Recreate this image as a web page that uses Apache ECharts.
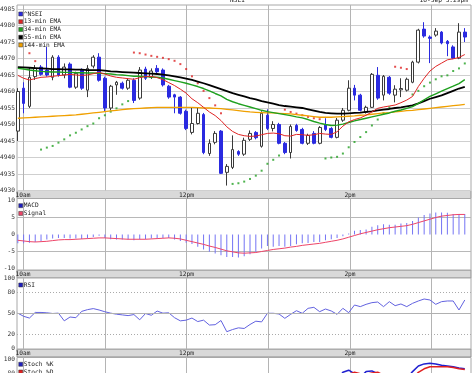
<!DOCTYPE html>
<html><head><meta charset="utf-8">
<script src="https://cdn.jsdelivr.net/npm/echarts@6/dist/echarts.min.js"></script>
<style>html,body{margin:0;padding:0;background:#fff}#c{width:474px;height:373px}</style>
</head><body><div id="c"></div>
<script>
// ---- tick labels ----
const timeLabels = ['10am', '12pm', '2pm'];
const timeLabelPos = [0.9, 29.06, 57.22];      // in bar units
const hourLinePos = [0.9, 14.98, 29.06, 43.14, 57.22, 71.3];
const priceTicks = [4930, 4935, 4940, 4945, 4950, 4955, 4960, 4965, 4970, 4975, 4980, 4985];
const macdTicks = [-10, -5, 0, 5, 10];
const oscTicks = [0, 20, 50, 80, 100];

// ---- candles: [open, close, low, high] ----
const ohlc = [
[4948,4960,4945,4961],[4961,4956.4,4953.4,4962.8],[4955.5,4964.3,4955,4967.4],[4964.5,4967,4963.5,4968],
[4967.4,4965.2,4964.8,4968],[4966.5,4965,4964.5,4973.5],[4964.3,4970.4,4963.4,4971],[4970.4,4965,4964.5,4971],
[4965,4967.4,4964,4968.5],[4968.3,4961.3,4961,4968.8],[4961.3,4965.5,4960.8,4966],[4966.5,4961,4960.5,4967],
[4960.4,4967,4958.3,4968],[4967.7,4970.4,4967,4971],[4970.4,4963.4,4963,4971.6],[4964,4955,4954,4964.5],
[4955,4961.6,4954.3,4962],[4962,4962.8,4959,4963.2],[4962.5,4961,4960.6,4963],[4961,4963.4,4960.5,4964],
[4963.4,4957.3,4956.5,4964],[4958,4966.5,4957.5,4967.4],[4966.8,4964,4963.5,4967.5],[4964.3,4966.2,4963.8,4967],
[4967,4966,4965.5,4968],[4966.5,4962,4961.5,4967],[4961.6,4958.3,4957.8,4962],[4959,4958.3,4953.4,4959.3],
[4958.3,4953.4,4953,4958.6],[4954,4948.8,4948.3,4954.5],[4947.6,4950.3,4947,4955.2],[4950.3,4953.4,4950,4955.2],
[4953,4941.5,4941,4953.5],[4941.2,4944.3,4940.5,4945.5],[4944.6,4947.3,4944,4948],[4948,4935.2,4935,4948.3],
[4935.5,4937.3,4931.5,4938],[4937,4942.4,4936.5,4946.7],[4941.8,4941,4940.5,4942.2],[4941,4945.2,4940.5,4946],
[4945.5,4947.3,4945,4948.2],[4947.6,4946,4945.5,4948],[4943.4,4953.4,4943,4954],[4952.8,4948.8,4948.3,4954.6],
[4948.8,4950,4947.9,4951],[4950,4944.3,4944,4950.5],[4944.3,4941.5,4941,4944.7],[4941.5,4949.4,4939.7,4950],
[4949.7,4948.2,4947.8,4950.2],[4948.5,4944.3,4944,4949],[4944.3,4946.7,4943.8,4947.2],[4947.3,4944.3,4944,4948],
[4944.3,4949.1,4944,4949.5],[4950,4948.5,4948,4951.9],[4948.8,4946.1,4945.8,4949.2],[4946.1,4951.3,4945.8,4952],
[4951.3,4954.3,4950.8,4955],[4954.3,4961,4954,4963.4],[4961,4958.9,4957.3,4962],[4958.9,4954.3,4954,4959.3],
[4953.7,4955.2,4953.3,4955.7],[4955.2,4965.2,4955,4965.6],[4964.9,4958,4957.5,4967.4],[4958.9,4964.6,4957.3,4965],
[4964.3,4959.5,4959,4964.7],[4958.9,4960.7,4956.7,4961.9],[4960.5,4960.9,4958.3,4964],[4960.4,4963.7,4960,4964.2],
[4962.8,4968.9,4962.5,4969.3],[4968.9,4978.6,4968.5,4979],[4978.9,4976.8,4976.3,4981],[4976.5,4976.1,4968.6,4977],
[4977.1,4978.3,4976.6,4979.2],[4978,4974.7,4974.3,4978.3],[4975.2,4974.5,4970.7,4975.6],[4973.5,4970.1,4969.8,4974],
[4970.1,4978,4969.8,4980.7],[4978,4976.5,4975,4979.2]
];

const ema13 = [4964.9,4964.0,4963.5,4963.9,4964.3,4964.4,4964.6,4964.8,4965.0,4965.2,
4965.0,4964.9,4965.0,4965.4,4965.8,4965.3,4964.7,4964.3,4964.1,4963.9,
4963.7,4964.2,4964.5,4964.6,4964.2,4963.6,4962.7,4961.8,4960.7,4959.5,
4957.8,4956.6,4955.2,4953.8,4952.7,4951.2,4949.3,4947.9,4947.0,4946.6,
4946.4,4946.5,4946.9,4947.3,4947.4,4947.2,4946.6,4946.5,4947.0,4946.9,
4946.7,4946.9,4947.3,4947.1,4947.0,4947.8,4949.5,4950.8,4951.5,4952.0,
4952.8,4953.8,4954.9,4955.3,4955.6,4955.9,4956.6,4957.4,4958.5,4961.5,
4964.0,4966.2,4967.6,4968.6,4969.6,4969.9,4970.3,4971.2];

const ema34 = [4967.0,4966.8,4966.5,4966.3,4966.1,4966.0,4965.9,4965.9,4965.8,4965.8,
4965.7,4965.7,4965.6,4965.6,4965.5,4965.4,4965.3,4965.1,4965.0,4964.8,
4964.6,4964.6,4964.5,4964.4,4964.3,4964.1,4963.7,4963.3,4962.9,4962.5,
4962.0,4961.5,4960.9,4960.2,4959.4,4958.7,4957.6,4956.9,4956.3,4955.8,
4955.3,4954.8,4954.3,4953.9,4953.6,4953.3,4953.0,4952.7,4952.3,4952.0,
4951.5,4950.9,4950.4,4950.0,4949.7,4949.8,4950.1,4950.6,4951.1,4951.5,
4951.9,4952.3,4952.7,4953.1,4953.5,4954.0,4954.4,4954.9,4955.4,4956.4,
4957.5,4958.5,4959.3,4960.1,4960.9,4961.6,4962.4,4963.6];

const ema55 = [4967.4,4967.3,4967.2,4967.1,4967.0,4966.9,4966.8,4966.8,4966.7,4966.7,
4966.6,4966.6,4966.5,4966.5,4966.5,4966.3,4966.1,4966.0,4965.9,4965.8,
4965.7,4965.6,4965.5,4965.4,4965.3,4965.1,4964.9,4964.6,4964.3,4963.9,
4963.5,4963.0,4962.5,4961.9,4961.3,4960.7,4960.1,4959.5,4959.0,4958.5,
4958.0,4957.6,4957.1,4956.7,4956.3,4955.9,4955.6,4955.4,4955.2,4955.0,
4954.6,4954.2,4953.8,4953.5,4953.4,4953.3,4953.3,4953.4,4953.5,4953.6,
4953.8,4954.0,4954.3,4954.5,4954.7,4955.0,4955.2,4955.5,4955.8,4956.4,
4957.1,4957.8,4958.3,4958.8,4959.5,4960.2,4960.9,4961.4];

const ema144 = [4951.9,4952.0,4952.1,4952.2,4952.3,4952.4,4952.5,4952.6,4952.7,4952.8,
4952.9,4953.1,4953.3,4953.5,4953.7,4953.9,4954.1,4954.3,4954.5,4954.7,
4954.8,4954.9,4955.0,4955.1,4955.2,4955.2,4955.2,4955.2,4955.2,4955.2,
4955.2,4955.1,4955.0,4955.0,4954.9,4954.8,4954.6,4954.4,4954.2,4954.0,
4953.8,4953.7,4953.6,4953.5,4953.5,4953.4,4953.3,4953.2,4953.0,4952.8,
4952.6,4952.4,4952.2,4952.2,4952.2,4952.3,4952.4,4952.5,4952.6,4952.8,
4952.9,4953.1,4953.3,4953.5,4953.6,4953.8,4954.0,4954.2,4954.3,4954.5,
4954.7,4954.9,4955.1,4955.3,4955.5,4955.7,4955.9,4956.1];

// parabolic SAR (above = falling, below = rising)
const sarAbove = [null,null,4971.6,4969.2,
null,null,null,null,null,null,null,null,null,null,null,null,null,null,null,null,
4971.8,4971.6,4971.2,4970.8,4970.5,4970.2,4969.8,4969.3,4968.3,4966.8,4964.6,4962.5,4960.2,4958,4955.8,4953.4,
null,null,null,null,null,null,null,null,null,null,
4954.5,4953.8,4953.3,4952.8,4952.3,4951.9,4951.6,
null,null,null,null,null,null,null,null,null,null,null,null,
4967.5,4967.2,4966.8,
null,null,null,null,null,null,null,null,null,null];
const sarBelow = [null,null,null,null,
4942.4,4943,4943.5,4944.5,4945.5,4946.7,4947.5,4948.5,4949.5,4950.3,4951.9,4952.8,4953.9,4954.9,4956.1,4957.1,
null,null,null,null,null,null,null,null,null,null,null,null,null,null,null,null,null,
4932,4932.2,4932.7,4933.5,4934.5,4936,4938.1,4939.3,4940.6,
null,null,null,null,null,null,null,
4939.7,4940,4940.2,4941.2,4943.1,4944.7,4946.2,4947.7,4949.7,4951.5,4953.4,4955.2,
null,null,null,
4959.1,4960.2,4961.6,4962.7,4963.7,4964.6,4964.9,4966.2,4967,4968.5];

const macd = [-2.6,-2.6,-2.4,-2.2,-1.9,-1.5,-1.2,-1.0,-1.0,-1.2,
-1.2,-1.3,-1.2,-0.7,-0.4,-1.0,-1.4,-1.5,-1.5,-1.5,
-1.7,-1.5,-1.4,-1.2,-1.2,-1.0,-1.0,-1.5,-1.9,-2.4,
-2.8,-3.6,-4.4,-5.1,-5.6,-6.1,-6.6,-6.6,-6.8,-6.4,
-5.8,-5.1,-4.1,-3.4,-3.6,-3.4,-3.6,-3.4,-2.9,-2.6,
-2.5,-2.2,-2.2,-1.7,-1.4,-1.0,-0.5,0.3,1.1,1.3,
1.5,2.3,2.7,3.0,2.9,2.9,3.2,3.4,4.0,5.0,
5.7,6.2,6.5,6.5,6.4,6.0,6.0,6.0];

const signal = [-1.7,-1.9,-2.1,-2.2,-2.1,-2.0,-1.8,-1.6,-1.5,-1.5,
-1.4,-1.3,-1.2,-1.1,-1.0,-1.0,-1.1,-1.2,-1.3,-1.4,
-1.4,-1.4,-1.4,-1.3,-1.2,-1.1,-1.0,-1.1,-1.3,-1.7,
-2.1,-2.5,-2.9,-3.4,-3.8,-4.3,-4.8,-5.1,-5.4,-5.5,
-5.4,-5.3,-5.0,-4.7,-4.4,-4.2,-4.0,-3.7,-3.5,-3.2,
-3.0,-2.8,-2.6,-2.3,-2.0,-1.7,-1.3,-0.8,-0.3,0.2,
0.6,1.0,1.4,1.7,2.0,2.2,2.4,2.6,3.0,3.5,
4.0,4.5,5.0,5.4,5.6,5.8,5.9,5.9];

const rsi = [50.5,46,43.5,51.5,51.5,51,50,50.5,39.5,45,
44,53,55.5,57,55,52.5,50.5,49,48,47,
48.5,41,50,47.5,53.5,50.5,51,44,39.5,40.5,
43.5,38.5,40.5,33.5,34,40,24,27.1,29.5,28.6,
34.3,39,38,50.3,50.3,49.3,43.1,48.8,54,50.3,
57.4,58.8,52.6,56.4,53.6,48.8,57.4,51.2,62.1,59.8,
63.1,65.5,66.4,59.8,66.9,61.2,63.6,59.8,64.5,67.9,
70.7,69.3,63.1,66.9,67.9,67.9,55,69.3];

const stochK = [60,35,70,74,72,68,75,62,70,45,
62,48,70,76,72,30,50,58,55,62,
40,72,65,70,72,55,40,28,18,10,
20,25,18,15,22,8,12,30,28,38,
48,46,72,62,64,45,30,52,50,38,
45,40,52,55,45,70,81,84,79,74,
82,83,79,70,62,55,62,72,82,90,
93,94,93,91,90,89,87,86];
const stochD = [55,50,55,62,74,73,75,72,72,59,
59,52,60,69,75,63,51,46,54,58,
52,58,59,69,69,66,56,41,29,19,
16,18,21,19,18,15,14,17,23,32,
38,44,55,60,66,57,46,42,44,47,
44,41,46,49,51,57,65,78,81,79,
78,80,81,77,70,62,60,63,72,81,
86,89,89,89,89,88,86,85];

// ---- build ----
const FONT = 'DejaVu Sans Mono';
const FS = 6.2;
const TXT = '#222';
const BLUE = '#2a2ae0';
const idx = a => a.map((v, i) => v == null ? null : [i, v]).filter(d => d);

const grids = [
  {left: 17, right: 3, top: 5, height: 185.5},
  {left: 17, right: 3, top: 198.5, height: 71.5},
  {left: 17, right: 3, top: 278, height: 71},
  {left: 17, right: 3, top: 357.5, height: 71.5}
].map(g => Object.assign(g, {show: true, borderColor: '#a8a8a8', borderWidth: 1, backgroundColor: '#fff',
  containLabel: false, outerBoundsMode: 'none'}));

const xAxes = grids.map((g, i) => ({
  type: 'value', gridIndex: i, min: -0.14, max: 78.07,
  axisLine: {show: false},
  axisTick: {show: false, customValues: hourLinePos},
  splitLine: {show: true, lineStyle: {color: '#b4b4b4', width: 1}},
  axisLabel: {
    customValues: timeLabelPos, margin: 1.5, fontSize: FS, fontFamily: FONT, color: TXT,
    formatter: v => { const k = timeLabelPos.findIndex(p => Math.abs(p - v) < 1e-6); return k >= 0 ? timeLabels[k] : ''; }
  }
}));

const yLabel = vals => ({customValues: vals, margin: 2, fontSize: FS, fontFamily: FONT, color: '#333',
  formatter: v => String(v)});
const yAxes = [
  {type: 'value', gridIndex: 0, min: 4930, max: 4986.21, axisLine: {show: false},
   axisTick: {show: false, customValues: priceTicks}, axisLabel: yLabel(priceTicks),
   splitLine: {show: true, lineStyle: {color: '#cfcfcf', width: 1}}},
  {type: 'value', gridIndex: 1, min: -10.44, max: 10.588, axisLine: {show: false},
   axisTick: {show: false, customValues: [-5, 5]}, axisLabel: yLabel(macdTicks),
   splitLine: {show: true, lineStyle: {color: '#b8b8b8', width: 1}}},
  {type: 'value', gridIndex: 2, min: -0.714, max: 100.714, axisLine: {show: false},
   axisTick: {show: false, customValues: [20, 50, 80]}, axisLabel: yLabel(oscTicks),
   splitLine: {show: false}},
  {type: 'value', gridIndex: 3, min: 0, max: 102.14, axisLine: {show: false},
   axisTick: {show: false, customValues: [20, 50, 80]}, axisLabel: yLabel(oscTicks),
   splitLine: {show: false}}
];

const oscLines = {
  silent: true, symbol: 'none', label: {show: false},
  data: [
    {yAxis: 80, lineStyle: {color: '#aaa', type: [1, 2], width: 1}},
    {yAxis: 50, lineStyle: {color: '#b0b0b0', type: 'solid', width: 1}},
    {yAxis: 20, lineStyle: {color: '#aaa', type: [1, 2], width: 1}}
  ]
};

const legendBase = (top, items) => ({
  orient: 'vertical', left: 18.5, top: top, padding: 0, itemGap: 0,
  itemWidth: 4, itemHeight: 4, icon: 'rect', selectedMode: false,
  itemStyle: {borderColor: '#333', borderWidth: 0.5},
  textStyle: {fontSize: FS, fontFamily: FONT, color: TXT, lineHeight: 7.75, padding: [0, 0, 0, -4]},
  data: items
});

const strip = y => ({
  type: 'rect', z: -1, silent: true,
  shape: {x: 17, y: y, width: 454, height: 8},
  style: {fill: '#d9d9d9', stroke: '#8c8c8c', lineWidth: 1}
});

const option = {
  animation: false,
  backgroundColor: '#fff',
  title: [
    {text: 'NSEI', left: 230, top: -2.5, padding: 0, textStyle: {fontSize: FS, fontWeight: 'normal', fontFamily: FONT, color: TXT}},
    {text: '18-Sep 3:29pm', right: 6, top: -2.5, padding: 0, textStyle: {fontSize: FS, fontWeight: 'normal', fontFamily: FONT, color: TXT}}
  ],
  grid: grids,
  xAxis: xAxes,
  yAxis: yAxes,
  legend: [
    legendBase(10.1, [{name: '^NSEI', itemStyle: {color: BLUE}}, '13-min EMA', '34-min EMA', '55-min EMA', '144-min EMA']),
    legendBase(201.8, [{name: 'MACD', itemStyle: {color: '#2020c0'}}, 'Signal']),
    legendBase(281.1, [{name: 'RSI', itemStyle: {color: '#2020c0'}}]),
    legendBase(360.4, [{name: 'Stoch %K', itemStyle: {color: '#2020c0'}}]),
    legendBase(368.15, ['Stoch %D'])
  ],
  graphic: [strip(190.5), strip(270), strip(349)],
  series: [
    {name: '^NSEI', type: 'candlestick', xAxisIndex: 0, yAxisIndex: 0, barWidth: 3.2,
     data: ohlc.map((d, i) => [i, d[0], d[1], d[2], d[3]]),
     itemStyle: {color: '#ffffff', color0: BLUE, borderColor: '#3a3a3a', borderColor0: BLUE, borderWidth: 1}},
    {name: '144-min EMA', type: 'line', xAxisIndex: 0, yAxisIndex: 0, data: idx(ema144), showSymbol: false, color: '#f0a000', lineStyle: {width: 1.3}},
    {name: '55-min EMA', type: 'line', xAxisIndex: 0, yAxisIndex: 0, data: idx(ema55), showSymbol: false, color: '#000000', lineStyle: {width: 1.8}},
    {name: '34-min EMA', type: 'line', xAxisIndex: 0, yAxisIndex: 0, data: idx(ema34), showSymbol: false, color: '#1ea01e', lineStyle: {width: 1.4}},
    {name: '13-min EMA', type: 'line', xAxisIndex: 0, yAxisIndex: 0, data: idx(ema13), showSymbol: false, color: '#e02424', lineStyle: {width: 1}},
    {name: 'SAR falling', type: 'scatter', xAxisIndex: 0, yAxisIndex: 0, data: idx(sarAbove), symbol: 'rect', symbolSize: 2, itemStyle: {color: '#dd2222'}},
    {name: 'SAR rising', type: 'scatter', xAxisIndex: 0, yAxisIndex: 0, data: idx(sarBelow), symbol: 'rect', symbolSize: 2, itemStyle: {color: '#22a022'}},
    {name: 'MACD', type: 'bar', xAxisIndex: 1, yAxisIndex: 1, data: idx(macd), barWidth: 1, itemStyle: {color: '#7474f4'}},
    {name: 'Signal', type: 'line', xAxisIndex: 1, yAxisIndex: 1, data: idx(signal), showSymbol: false, color: '#ee4468', lineStyle: {width: 1}},
    {name: 'RSI', type: 'line', xAxisIndex: 2, yAxisIndex: 2, data: idx(rsi), showSymbol: false, color: '#6262e0', lineStyle: {width: 1}, markLine: oscLines},
    {name: 'Stoch %K', type: 'line', xAxisIndex: 3, yAxisIndex: 3, data: idx(stochK), showSymbol: false, color: '#2020d0', lineStyle: {width: 1.5}, markLine: oscLines},
    {name: 'Stoch %D', type: 'line', xAxisIndex: 3, yAxisIndex: 3, data: idx(stochD), showSymbol: false, color: '#e02020', lineStyle: {width: 1.5}}
  ]
};

const chart = echarts.init(document.getElementById('c'), null, {renderer: 'canvas', devicePixelRatio: 1});
chart.setOption(option);
</script>
</body></html>
